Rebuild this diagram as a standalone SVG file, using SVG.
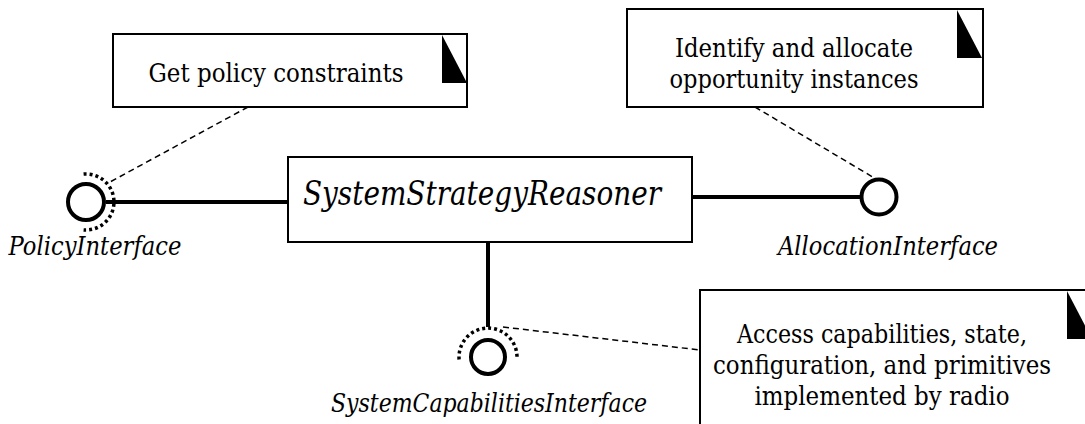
<svg xmlns="http://www.w3.org/2000/svg" width="1085" height="424" viewBox="0 0 1085 424">
<style>
.box{fill:#fff;stroke:#000;stroke-width:2}
.fold{fill:#000;stroke:none}
text{font-family:'DejaVu Serif','Noto Serif',serif;font-size:26px;fill:#000;text-anchor:middle}
.it{font-style:italic;font-size:25.5px}
.big{font-size:33px}
.lol{fill:#fff;stroke:#000;stroke-width:4}
.dot{fill:none;stroke:#000;stroke-width:3.5;stroke-dasharray:3 3}
.solid{fill:none;stroke:#000;stroke-width:4}
.dash{fill:none;stroke:#000;stroke-width:1.5;stroke-dasharray:6 4}
</style>
<rect width="1085" height="424" fill="#fff"/>
<g id="connectors">
<line class="dash" x1="248" y1="107" x2="110" y2="182"/>
<line class="dash" x1="755" y1="107" x2="876" y2="179"/>
<line class="dash" x1="503" y1="327" x2="700" y2="350"/>
<line class="solid" x1="106" y1="202" x2="288" y2="202"/>
<line class="solid" x1="692" y1="197" x2="861" y2="197"/>
<line class="solid" x1="488" y1="242" x2="488" y2="327"/>
</g>
<g id="note-policy">
<rect class="box" x="113" y="34" width="354" height="73"/>
<polygon class="fold" points="442,35 442,83 467,83"/>
<text x="276" y="82" textLength="255" lengthAdjust="spacingAndGlyphs">Get policy constraints</text>
</g>
<g id="note-allocation">
<rect class="box" x="627" y="9" width="356" height="98"/>
<polygon class="fold" points="957,10 957,58 982,58"/>
<text x="794" y="57" textLength="238" lengthAdjust="spacingAndGlyphs">Identify and allocate</text>
<text x="794" y="88" textLength="249" lengthAdjust="spacingAndGlyphs">opportunity instances</text>
</g>
<g id="note-capabilities">
<rect class="box" x="700" y="290" width="392" height="150"/>
<polygon class="fold" points="1067,291 1067,339 1092,339"/>
<text x="882" y="343" textLength="290" lengthAdjust="spacingAndGlyphs">Access capabilities, state,</text>
<text x="882" y="374" textLength="338" lengthAdjust="spacingAndGlyphs">configuration, and primitives</text>
<text x="882" y="405" textLength="255" lengthAdjust="spacingAndGlyphs">implemented by radio</text>
</g>
<g id="SystemStrategyReasoner">
<rect class="box" x="288" y="157" width="404" height="85"/>
<text class="it big" x="482" y="205" textLength="358" lengthAdjust="spacingAndGlyphs">SystemStrategyReasoner</text>
</g>
<g id="PolicyInterface">
<circle class="lol" cx="86" cy="202" r="18"/>
<path class="dot" d="M83.6,174.1 A28,28 0 1 1 83.6,229.9"/>
<text class="it" x="95" y="255" textLength="173" lengthAdjust="spacingAndGlyphs">PolicyInterface</text>
</g>
<g id="AllocationInterface">
<circle class="lol" cx="879" cy="197" r="17.5"/>
<text class="it" x="888" y="255" textLength="220" lengthAdjust="spacingAndGlyphs">AllocationInterface</text>
</g>
<g id="SystemCapabilitiesInterface">
<circle class="lol" cx="488" cy="357" r="17"/>
<path class="dot" d="M459.1,359.5 A29,29 0 1 1 516.9,359.5"/>
<text class="it" x="489" y="412" textLength="316" lengthAdjust="spacingAndGlyphs">SystemCapabilitiesInterface</text>
</g>
</svg>
